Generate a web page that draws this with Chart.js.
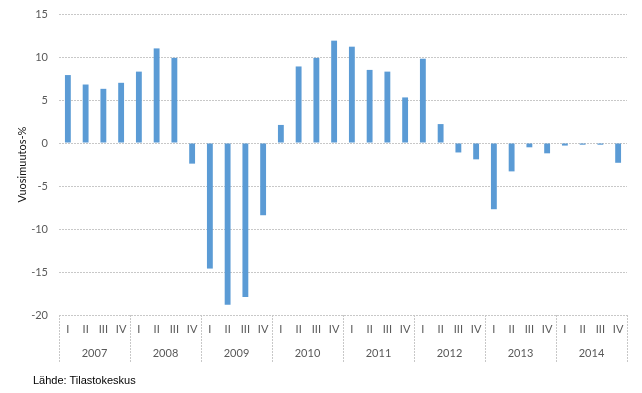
<!DOCTYPE html>
<html>
<head>
<meta charset="utf-8">
<script src="https://cdn.jsdelivr.net/npm/chart.js@4.4.0/dist/chart.umd.min.js"></script>
<style>
    body { margin: 0; background: #fff; }
    #wrap { position: relative; width: 642px; height: 393px; }
    #lahde {
        position: absolute; left: 33px; top: 374px;
        font: 11px "Liberation Sans", Arial, sans-serif; color: #000;
    }
</style>
</head>
<body>
<div id="wrap">
    <canvas id="kuvaaja"></canvas>
    <div id="lahde">Lähde: Tilastokeskus</div>
</div>
<script>
// Vuodet ja neljännekset
const vuodet = ['2007', '2008', '2009', '2010', '2011', '2012', '2013', '2014'];
const neljannekset = ['I', 'II', 'III', 'IV'];

// Vuosimuutos-% neljänneksittäin
const muutos = [
    7.9, 6.8, 6.3, 7.0,
    8.3, 11.0, 9.9, -2.4,
    -14.6, -18.8, -17.9, -8.4,
    2.1, 8.9, 9.9, 11.9,
    11.2, 8.5, 8.3, 5.3,
    9.8, 2.2, -1.1, -1.9,
    -7.7, -3.3, -0.5, -1.2,
    -0.3, -0.2, -0.2, -2.3
];

const yTicks = [-20, -15, -10, -5, 0, 5, 10, 15];

const labels = vuodet.flatMap(() => neljannekset);

const tekstiVari = '#595959';
const viivaVari = '#c8c8c8';

// piirtää vuosirivin ja erotinviivat
const vuosiPlugin = {
    id: 'vuodet',
    afterDraw(chart) {
        const ctx = chart.ctx;
        const x = chart.scales.x;
        const area = chart.chartArea;
        const puoli = (x.getPixelForValue(1) - x.getPixelForValue(0)) / 2;
        ctx.save();
        ctx.strokeStyle = viivaVari;
        ctx.lineWidth = 1;
        ctx.setLineDash([2, 1]);
        for (let i = 0; i <= vuodet.length; i++) {
            const px = Math.round(x.getPixelForValue(i * 4) - puoli) + 0.5;
            ctx.beginPath();
            ctx.moveTo(px, area.bottom);
            ctx.lineTo(px, area.bottom + 48);
            ctx.stroke();
        }
        ctx.setLineDash([]);
        ctx.fillStyle = tekstiVari;
        ctx.font = '11px Lato, "Liberation Sans", sans-serif';
        ctx.textAlign = 'center';
        ctx.textBaseline = 'middle';
        vuodet.forEach((v, i) => {
            const keski = (x.getPixelForValue(i * 4) + x.getPixelForValue(i * 4 + 3)) / 2;
            ctx.fillText(v, keski, area.bottom + 38);
        });
        ctx.restore();
    }
};

const ctx = document.getElementById('kuvaaja').getContext('2d');

new Chart(ctx, {
    type: 'bar',
    data: {
        labels: labels,
        datasets: [{
            label: 'Vuosimuutos-%',
            data: muutos,
            backgroundColor: '#5b9bd5',
            borderWidth: 0,
            barPercentage: 0.33,
            categoryPercentage: 1
        }]
    },
    options: {
        responsive: true,
        maintainAspectRatio: false,
        animation: false,
        layout: {
            padding: { top: 14, right: 15, bottom: 0, left: 0 }
        },
        scales: {
            x: {
                grid: { display: false, drawTicks: false },
                border: { display: false },
                ticks: {
                    color: tekstiVari,
                    font: { family: 'Lato, "Liberation Sans", sans-serif', size: 11 },
                    padding: 8,
                    maxRotation: 0,
                    autoSkip: false
                },
                afterFit: scale => { scale.height = 78; }
            },
            y: {
                min: -20,
                max: 15,
                afterBuildTicks: scale => {
                    scale.ticks = yTicks.map(v => ({ value: v }));
                },
                grid: {
                    color: viivaVari,
                    drawTicks: false
                },
                border: { display: false, dash: [2, 1] },
                ticks: {
                    color: tekstiVari,
                    font: { family: 'Lato, "Liberation Sans", sans-serif', size: 11 },
                    padding: 11
                },
                title: {
                    display: true,
                    text: 'Vuosimuutos-%',
                    color: '#111',
                    font: { family: 'Lato, "Liberation Sans", sans-serif', size: 11 },
                    padding: { top: 16, bottom: 0 }
                },
                afterFit: scale => {
                    scale.width = 59;
                    scale.paddingTop = 7;
                    scale.paddingBottom = 7;
                }
            }
        },
        plugins: {
            legend: { display: false },
            tooltip: { enabled: false }
        }
    },
    plugins: [vuosiPlugin]
});
</script>
</body>
</html>
